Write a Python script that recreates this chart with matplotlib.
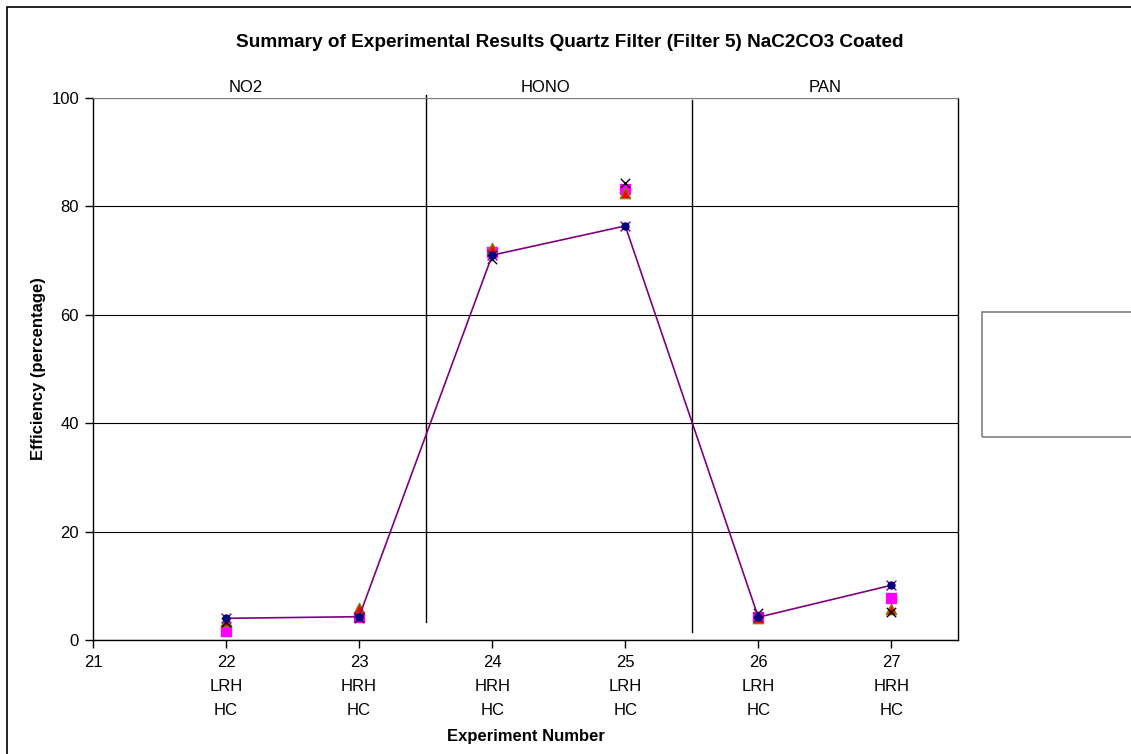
import matplotlib
matplotlib.use("Agg")
import matplotlib.pyplot as plt
from matplotlib.patches import Rectangle

plt.rcParams['font.family'] = ['Liberation Sans', 'DejaVu Sans']

experiments = [22, 23, 24, 25, 26, 27]
tick_values = [21, 22, 23, 24, 25, 26, 27]
tick_labels = ["21", "22\nLRH\nHC", "23\nHRH\nHC", "24\nHRH\nHC",
               "25\nLRH\nHC", "26\nLRH\nHC", "27\nHRH\nHC"]
line_series = [4.0, 4.3, 71.0, 76.4, 4.2, 10.1]
square_series = [1.7, 4.3, 71.6, 83.3, 4.2, 7.8]
triangle_series = [3.5, 5.9, 72.4, 82.5, 4.0, 5.7]
cross_series = [3.3, 4.0, 70.3, 84.4, 4.9, 5.1]
section_labels = ["NO2", "HONO", "PAN"]
section_centers = [22.15, 24.4, 26.5]

fig = plt.figure(figsize=(11.31, 7.54), dpi=100)
ax = fig.add_axes([0.0822, 0.1512, 0.7648, 0.7188])

ax.set_xlim(21, 27.5)
ax.set_ylim(0, 100)
ax.set_yticks([0, 20, 40, 60, 80, 100])
ax.set_xticks(tick_values)
ax.set_xticklabels(tick_labels, linespacing=1.72)
ax.tick_params(axis='both', direction='out', length=6, width=1, labelsize=12, color='black')
ax.tick_params(axis='x', pad=5)
ax.tick_params(axis='y', pad=4)
ax.grid(axis='y', color='black', linewidth=0.8)
ax.set_axisbelow(True)
for s in ['left', 'bottom', 'right']:
    ax.spines[s].set_color('black')
    ax.spines[s].set_linewidth(1)
ax.spines['top'].set_color('#808080')

ax.scatter(experiments, square_series, marker='s', s=45, color='#FF00FF', zorder=3)
ax.scatter(experiments, triangle_series, marker='^', s=55, color='#FF0000',
           edgecolors='#808000', linewidths=1, zorder=4)
ax.scatter(experiments, cross_series, marker='x', s=45, color='black', linewidths=1, zorder=5)
ax.plot(experiments, line_series, color='#800080', linewidth=1.2, zorder=6)
ax.scatter(experiments, line_series, marker='x', s=50, color='#800080', linewidths=1, zorder=7)
ax.scatter(experiments, line_series, marker='o', s=25, color='#000080', zorder=8)

# section separators
ax.plot([23.5, 23.5], [3.3, 100.6], color='black', linewidth=1, clip_on=False, zorder=2)
ax.plot([25.5, 25.5], [1.5, 99.6], color='black', linewidth=1, clip_on=False, zorder=2)

for lab, cx in zip(section_labels, section_centers):
    ax.text(cx, 100.6, lab, ha='center', va='bottom', fontsize=12)

ax.set_ylabel("Efficiency (percentage)", fontsize=12, fontweight='bold', labelpad=4)
ax.set_xlabel("Experiment Number", fontsize=12, fontweight='bold', labelpad=8)

fig.text(0.504, 0.944, "Summary of Experimental Results Quartz Filter (Filter 5) NaC2CO3 Coated",
         ha='center', va='center', fontsize=13.7, fontweight='bold')

# outer chart border
fig.patches.append(Rectangle((0.0062, -0.02), 1.1, 0.9907 + 0.02, transform=fig.transFigure,
                             fill=False, edgecolor='black', linewidth=1.2))
# partially visible legend box
fig.patches.append(Rectangle((0.868, 0.4204), 0.2, 0.166, transform=fig.transFigure,
                             fill=False, edgecolor='#808080', linewidth=1.2))

fig.savefig("out.png", dpi=100)
